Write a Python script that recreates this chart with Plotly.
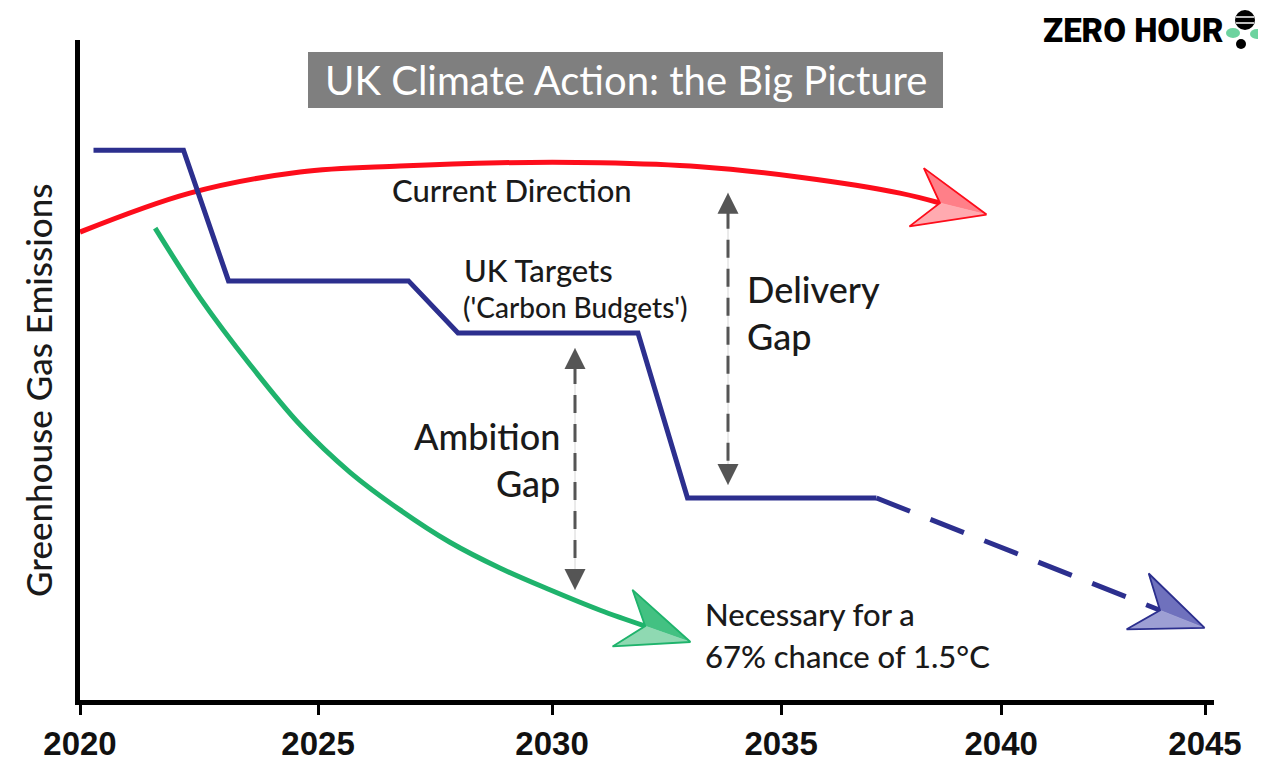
import numpy as np
import plotly.graph_objects as go

# ---------------- data (schematic emissions, arbitrary units) ----------------
current_years = [2020.0, 2022.44, 2024.89, 2027.11, 2029.33, 2031.56, 2033.78, 2036.0, 2038.22, 2039.11]
current_values = [70.9, 76.8, 80.0, 80.9, 81.4, 81.4, 80.8, 79.2, 76.8, 75.3]

target_years = [2020.3, 2022.3, 2023.3, 2027.3, 2028.4, 2032.4, 2033.5, 2037.7]
target_values = [83.3, 83.3, 63.5, 63.5, 55.6, 55.6, 30.6, 30.6]

projection_years = [2037.7, 2044.0]
projection_values = [30.6, 13.6]

necessary_years = [2021.67, 2022.67, 2023.78, 2024.89, 2026.0, 2027.11,
                   2028.22, 2029.33, 2030.44, 2031.56, 2032.56]
necessary_values = [71.5, 60.9, 50.8, 41.7, 34.5, 28.8, 23.9, 20.0, 16.7, 13.6, 11.2]

tick_labels = ["2020", "2025", "2030", "2035", "2040", "2045"]

ambition_gap_year = 2031.0
delivery_gap_year = 2034.4

# ---------------- layout constants ----------------
OFF = 8                      # page body margin of the html file
W, H = 1266 - OFF, 763 - OFF
PX0, PX1 = 80, 1214          # plot area in screen pixels
PY0, PY1 = 40, 700
ML, MT = PX0 - OFF, PY0 - OFF
PW, PH = PX1 - PX0, PY1 - PY0
MR, MB = W - ML - PW, H - MT - PH
X_RANGE = [2020.0, 2045.2]
Y_RANGE = [0.0, 100.0]
# where the (hand-drawn) reference places its tick marks
tick_positions = [2020.0, 2025.29, 2030.49, 2035.58, 2040.47, 2045.0]

LATO = "Lato, 'Open Sans', sans-serif"
TXT = "#1a1a1a"


def to_px(x, y):
    px = PX0 + (x - X_RANGE[0]) / (X_RANGE[1] - X_RANGE[0]) * PW
    py = PY0 + (Y_RANGE[1] - y) / (Y_RANGE[1] - Y_RANGE[0]) * PH
    return np.array([px, py])


def from_px(p):
    x = X_RANGE[0] + (p[0] - PX0) / PW * (X_RANGE[1] - X_RANGE[0])
    y = Y_RANGE[1] - (p[1] - PY0) / PH * (Y_RANGE[1] - Y_RANGE[0])
    return x, y


def paper(px, py):
    return (px - PX0) / PW, (PY1 - py) / PH


def dy_units(pixels):
    return pixels / PH * (Y_RANGE[1] - Y_RANGE[0])


fig = go.Figure()


def add_line(xs, ys, color, shape="linear", dash=None):
    fig.add_trace(go.Scatter(x=xs, y=ys, mode="lines",
                             line=dict(color=color, width=5, shape=shape, dash=dash,
                                       smoothing=1.0 if shape == "spline" else None),
                             hoverinfo="skip", showlegend=False))


def add_poly(points, fill, edge, width=1.5):
    pts = [from_px(p) for p in points] + [from_px(points[0])]
    fig.add_trace(go.Scatter(x=[p[0] for p in pts], y=[p[1] for p in pts], mode="lines",
                             fill="toself", fillcolor=fill,
                             line=dict(color=edge, width=width),
                             hoverinfo="skip", showlegend=False))


def add_arrowhead(xs, ys, dark, light, edge, to_tip=48, back=72, half=30):
    p1, p2 = to_px(xs[-2], ys[-2]), to_px(xs[-1], ys[-1])
    d = (p2 - p1) / np.linalg.norm(p2 - p1)
    perp = np.array([-d[1], d[0]])
    notch = p2
    tip = notch + to_tip * d
    base = tip - back * d
    w_up = base - half * perp
    w_dn = base + half * perp
    add_poly([tip, w_up, notch], dark, dark, 0.5)
    add_poly([tip, notch, w_dn], light, light, 0.5)
    add_poly([tip, w_up, notch, w_dn], "rgba(0,0,0,0)", edge, 1.8)


# red: current direction
add_line(current_years, current_values, "#fd0d1b", shape="spline")
add_arrowhead(current_years, current_values, "#ff7f88", "#ffaab0", "#fd0d1b")

# blue: UK targets + projection
add_line(target_years, target_values, "#2c2f8e")
add_line(projection_years, projection_values, "#2c2f8e", dash="36px,22px")
add_arrowhead(projection_years, projection_values, "#6f71bd", "#9d9fd4", "#2c2f8e")

# green: necessary pathway
add_line(necessary_years, necessary_values, "#1fb36c", shape="spline")
add_arrowhead(necessary_years, necessary_values, "#43c182", "#8fd9b2", "#1fb36c")


# grey gap arrows
def gap_arrow(x, y_top, y_bot):
    head = dy_units(18)
    fig.add_trace(go.Scatter(x=[x, x], y=[y_top, y_bot], mode="lines",
                             line=dict(color="#d6d6d6", width=1),
                             hoverinfo="skip", showlegend=False))
    fig.add_trace(go.Scatter(x=[x, x], y=[y_top - head, y_bot + head], mode="lines",
                             line=dict(color="#555555", width=3, dash="18px,11px"),
                             hoverinfo="skip", showlegend=False))
    for yy, ay in [(y_top, 20), (y_bot, -20)]:
        fig.add_annotation(x=x, y=yy, ax=0, ay=ay, text="", showarrow=True,
                           arrowhead=2, arrowsize=1.4, arrowwidth=3, arrowcolor="#555555")


amb_top = np.interp(ambition_gap_year, target_years, target_values) - dy_units(15)
amb_bot = np.interp(ambition_gap_year, necessary_years, necessary_values) + dy_units(10)
gap_arrow(ambition_gap_year, amb_top, amb_bot)

del_top = np.interp(delivery_gap_year, current_years, current_values) - dy_units(23)
del_bot = np.interp(delivery_gap_year, target_years, target_values) + dy_units(13)
gap_arrow(delivery_gap_year, del_top, del_bot)


# ---------------- text ----------------
def label(px, py, text, size, anchor="center", color=TXT, font=LATO, weight=500):
    x, y = from_px((px, py))
    fig.add_annotation(x=x, y=y, text=text, showarrow=False, xanchor=anchor, yanchor="middle",
                       align=anchor if anchor != "center" else "center",
                       font=dict(family=font, size=size, color=color, weight=weight))


label(512, 190, "Current Direction", 31)
label(462, 270, "UK Targets", 31, anchor="left")
label(461, 307, "('Carbon Budgets')", 28, anchor="left")
label(745, 312, "Delivery<br>Gap", 36, anchor="left")
label(562, 459, "Ambition<br>Gap", 36, anchor="right")
label(703, 614, "Necessary for a", 31, anchor="left")
label(703, 656, "67% chance of 1.5°C", 31, anchor="left")

# title box
bx0, by0 = paper(308, 108)
bx1, by1 = paper(943, 52)
fig.add_shape(type="rect", xref="paper", yref="paper", x0=bx0, y0=by0, x1=bx1, y1=by1,
              fillcolor="#7f7f7f", line=dict(width=0), layer="above")
tx, ty = paper(626, 80)
fig.add_annotation(xref="paper", yref="paper", x=tx, y=ty, text="UK Climate Action: the Big Picture",
                   showarrow=False, xanchor="center", yanchor="middle",
                   font=dict(family=LATO, size=40, color="white"))

# y-axis title
yx, yy = paper(38, 390)
fig.add_annotation(xref="paper", yref="paper", x=yx, y=yy, text="Greenhouse Gas Emissions",
                   textangle=-90, showarrow=False, xanchor="center", yanchor="middle",
                   font=dict(family=LATO, size=35, color=TXT, weight=500))

# logo
lx, ly = paper(1133, 30)
fig.add_annotation(xref="paper", yref="paper", x=lx, y=ly, text="ZERO HOUR",
                   showarrow=False, xanchor="center", yanchor="middle",
                   font=dict(family="Roboto, 'DejaVu Sans', sans-serif", size=33,
                             color="black", weight=900))


def circle(cx, cy, rx, ry, color):
    x0, y0 = paper(cx - rx, cy + ry)
    x1, y1 = paper(cx + rx, cy - ry)
    fig.add_shape(type="circle", xref="paper", yref="paper", x0=x0, y0=y0, x1=x1, y1=y1,
                  fillcolor=color, line=dict(width=0), layer="above")


circle(1233, 33, 7, 5, "#6dd39f")
circle(1257, 34, 7, 5, "#6dd39f")
circle(1245, 20, 10, 10, "black")
circle(1241, 44, 5, 5, "black")
for sy in (17, 23):
    x0, y0 = paper(1236, sy)
    x1, y1 = paper(1254, sy)
    fig.add_shape(type="line", xref="paper", yref="paper", x0=x0, y0=y0, x1=x1, y1=y1,
                  line=dict(color="white", width=1.5), layer="above")

# ---------------- axes ----------------
fig.update_layout(
    width=W, height=H,
    margin=dict(l=ML, r=MR, t=MT, b=MB, autoexpand=False),
    paper_bgcolor="white", plot_bgcolor="white",
    showlegend=False,
    xaxis=dict(range=X_RANGE, showgrid=False, zeroline=False,
               showline=True, linewidth=5, linecolor="black",
               tickmode="array", tickvals=tick_positions, ticktext=tick_labels,
               ticks="outside", ticklen=10, tickwidth=3, tickcolor="black",
               ticklabelstandoff=0,
               tickfont=dict(family="'Liberation Sans', Arial, sans-serif", size=33,
                             color="#111111", weight="bold"),
               fixedrange=True),
    yaxis=dict(range=Y_RANGE, showgrid=False, zeroline=False,
               showline=True, linewidth=5, linecolor="black",
               showticklabels=False, ticks="", fixedrange=True),
)

fig.write_html("out.html")
